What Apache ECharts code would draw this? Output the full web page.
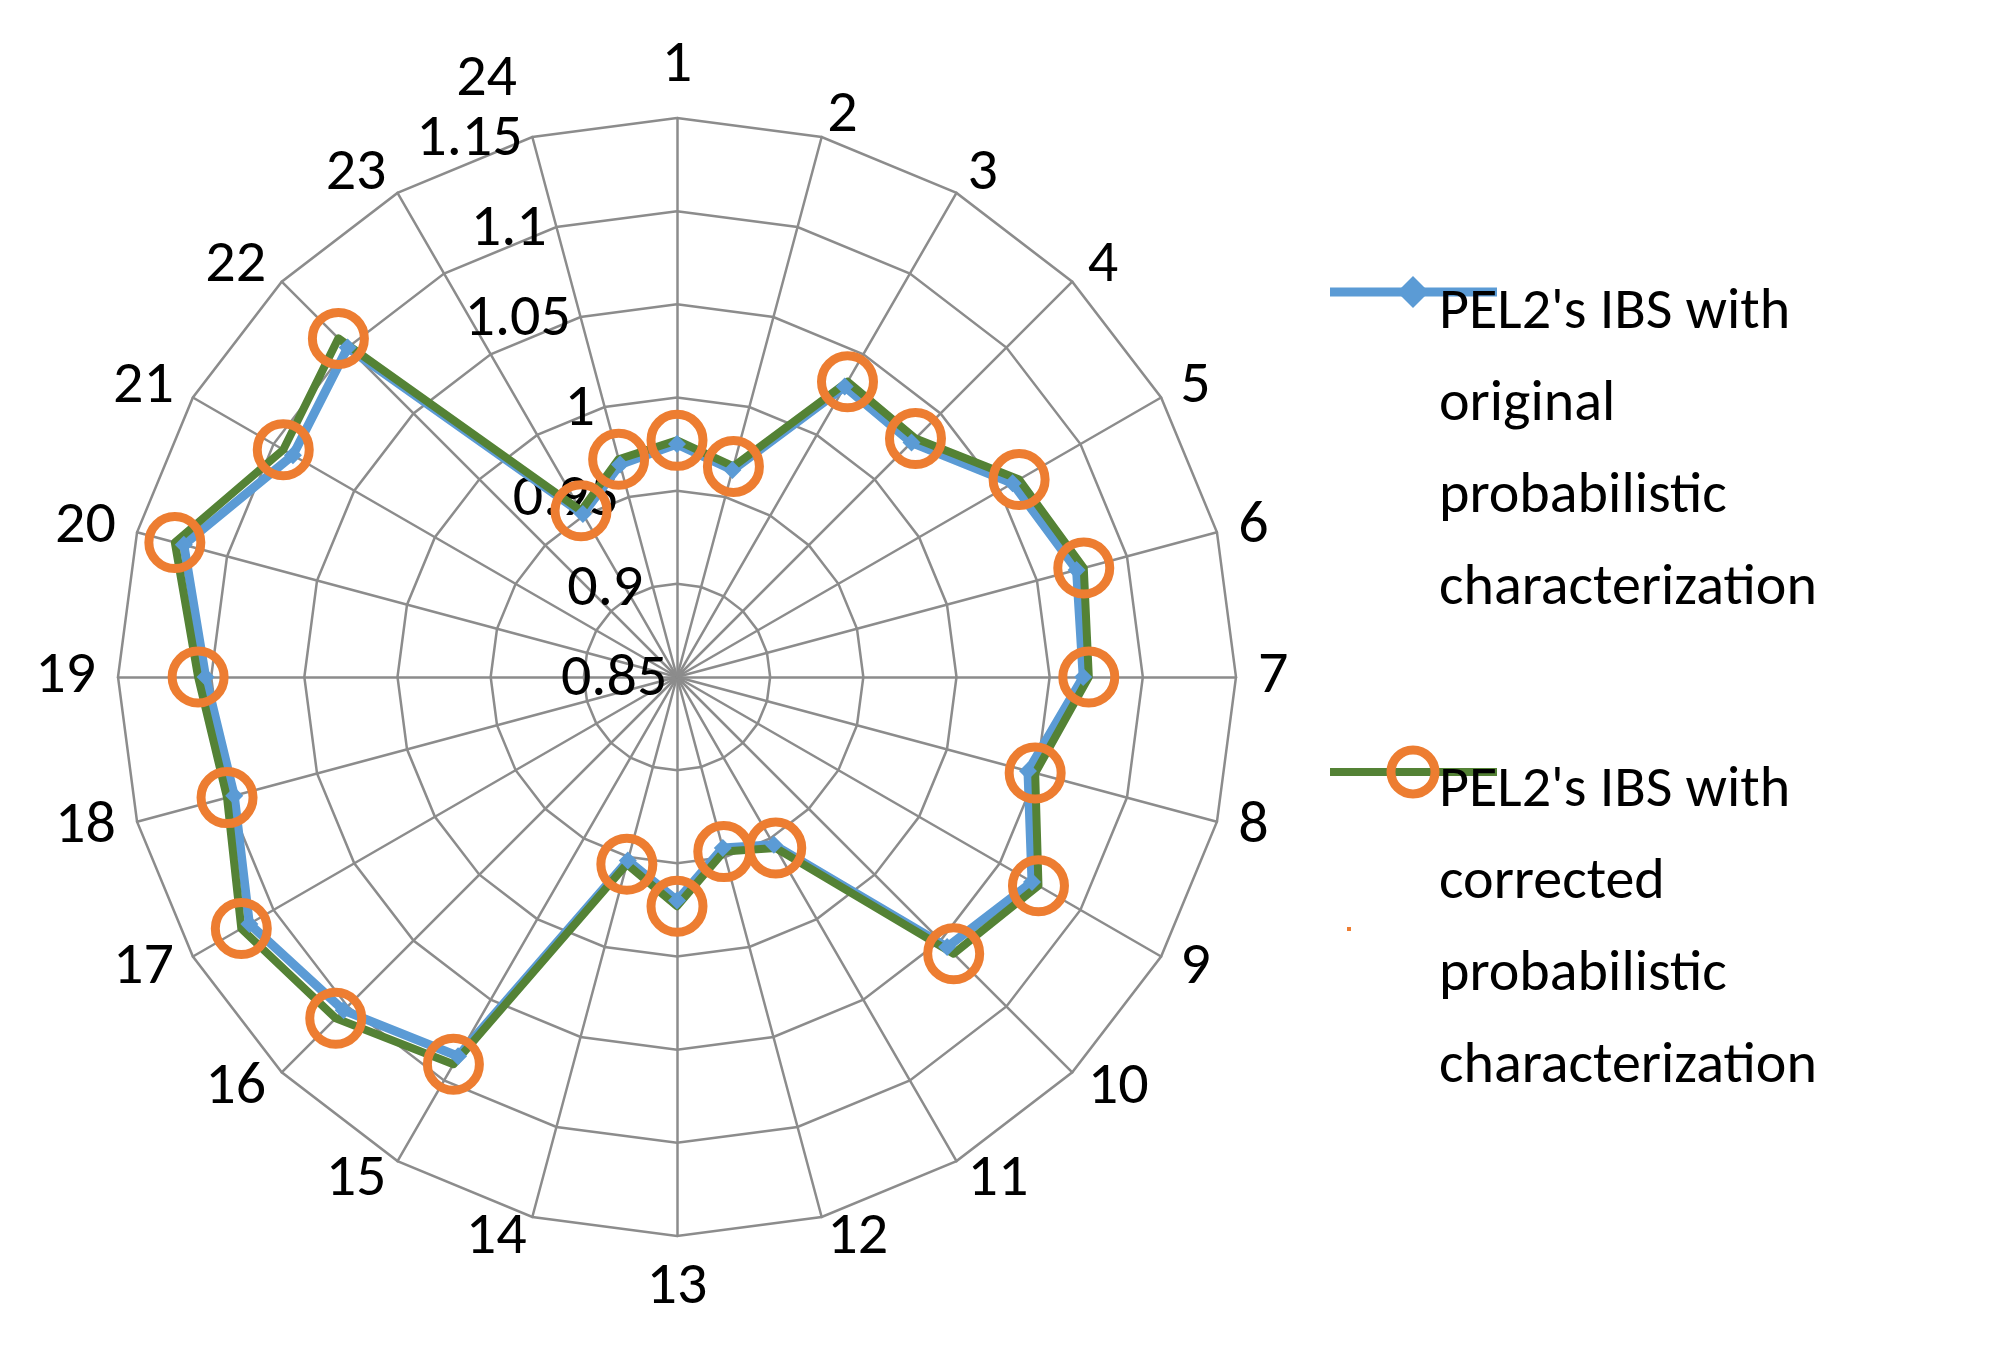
<!DOCTYPE html>
<html><head><meta charset="utf-8">
<script src="https://cdn.jsdelivr.net/npm/echarts@6/dist/echarts.min.js"></script>
<style>html,body{margin:0;background:#fff}#c{width:2010px;height:1353px}</style>
</head><body><div id="c"></div>
<script>
const categories = ['1','2','3','4','5','6','7','8','9','10','11','12','13','14','15','16','17','18','19','20','21','22','23','24'];
const original = [0.975,0.965,1.030,1.028,1.058,1.072,1.068,1.045,1.070,1.055,0.954,0.945,0.970,0.952,1.085,1.103,1.115,1.096,1.103,1.124,1.088,1.100,0.951,0.968];
const corrected = [0.977,0.967,1.033,1.031,1.062,1.076,1.071,1.049,1.074,1.060,0.956,0.947,0.973,0.954,1.090,1.109,1.120,1.100,1.107,1.129,1.094,1.107,0.953,0.971];
const seriesNames = ["PEL2's IBS with\noriginal\nprobabilistic\ncharacterization", "PEL2's IBS with\ncorrected\nprobabilistic\ncharacterization"];
// ECharts radar runs counter-clockwise; reorder so the chart reads clockwise
const order = [0].concat(categories.map((c,i)=>i).slice(1).reverse());
const cats = order.map(i=>categories[i]);
const orig = order.map(i=>original[i]);
const corr = order.map(i=>corrected[i]);
const chart = echarts.init(document.getElementById('c'));
const font = 'Calibri, Carlito, "Open Sans", sans-serif';
const blank = 'path://M0,0h1v1h-1z';
chart.setOption({
  animation:false,
  legend:{orient:'vertical',left:1342,top:262,itemGap:110,itemWidth:170,itemHeight:2,
    textStyle:{fontSize:58,fontFamily:font,color:'#000',lineHeight:92},
    data:[{name:seriesNames[0],icon:blank,itemStyle:{color:'rgba(0,0,0,0)'}},
          {name:seriesNames[1],icon:blank,itemStyle:{color:'rgba(0,0,0,0)'}}]},
  graphic:[
    {type:'line',shape:{x1:1330,y1:292,x2:1497,y2:292},style:{stroke:'#5B9BD5',lineWidth:9}},
    {type:'polygon',shape:{points:[[1413,276],[1429,292],[1413,308],[1397,292]]},style:{fill:'#5B9BD5'}},
    {type:'line',shape:{x1:1330,y1:772,x2:1497,y2:772},style:{stroke:'#548235',lineWidth:8}},
    {type:'circle',shape:{cx:1413,cy:772,r:22},style:{fill:'rgba(0,0,0,0)',stroke:'#ED7D31',lineWidth:9}}
  ],
  radar:{center:[677,677],radius:559,shape:'polygon',startAngle:90,splitNumber:6,
    indicator:cats.map((c,i)=>{const o={name:c,min:0.85,max:1.15};
      if(i===1) o.axisLabel={show:true};return o;}),
    axisName:{color:'#000',fontSize:60,fontFamily:font},nameGap:22,
    axisLabel:{show:false,color:'#000',fontSize:60,fontFamily:font,showMinLabel:true,margin:10,
      formatter:v=>String(+v.toFixed(2))},
    splitLine:{lineStyle:{color:'#8c8c8c',width:2.5}},
    axisLine:{lineStyle:{color:'#8c8c8c',width:2.5}},
    splitArea:{show:false}},
  series:[{type:'radar',data:[
    {name:seriesNames[0],value:orig,symbol:'diamond',symbolSize:18,
     lineStyle:{color:'#5B9BD5',width:9},itemStyle:{color:'#5B9BD5'}},
    {name:seriesNames[1],value:corr,symbol:'circle',symbolSize:52,
     lineStyle:{color:'#548235',width:8},itemStyle:{color:'rgba(0,0,0,0)',borderColor:'#ED7D31',borderWidth:9}}
  ]}]
});
</script></body></html>
